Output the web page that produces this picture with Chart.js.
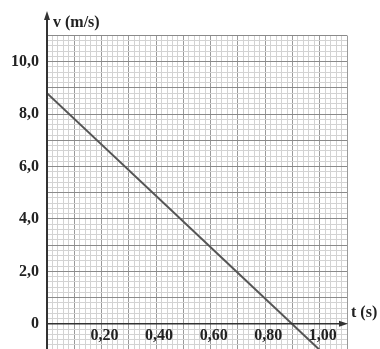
<!DOCTYPE html>
<html>
<head>
<meta charset="utf-8">
<script src="https://cdn.jsdelivr.net/npm/chart.js"></script>
<style>
  html, body { margin: 0; padding: 0; background: #fff; overflow: hidden; }
  #wrap { position: absolute; left: 0; top: 0; width: 380px; height: 352px; }
</style>
</head>
<body>
<div id="wrap"><canvas id="vt-chart"></canvas></div>
<script>
// données du graphique v(t)
const tValues = [0, 1.0];
const vValues = [8.8, -1.0];
const xTickValues = [0.2, 0.4, 0.6, 0.8, 1.0];
const xTickLabels = ['0,20', '0,40', '0,60', '0,80', '1,00'];
const yTickValues = [0, 2, 4, 6, 8, 10];
const yTickLabels = ['0', '2,0', '4,0', '6,0', '8,0', '10,0'];

const FONT = "bold 16px 'Liberation Serif', 'DejaVu Serif', serif";

function isMultiple(v, step) {
    const r = v / step;
    return Math.abs(r - Math.round(r)) < 1e-6;
}

// axes, flèches et textes
const axesPlugin = {
    id: 'axes',
    afterDraw(chart) {
        const ctx = chart.ctx;
        const x = chart.scales.x;
        const y = chart.scales.y;
        const x0 = x.getPixelForValue(0);
        const y0 = y.getPixelForValue(0);
        const xEnd = x.right;
        ctx.save();
        ctx.strokeStyle = '#333';
        ctx.fillStyle = '#333';

        // axe vertical
        ctx.lineWidth = 2;
        ctx.beginPath();
        ctx.moveTo(x0, chart.height);
        ctx.lineTo(x0, 16);
        ctx.stroke();
        ctx.beginPath();
        ctx.moveTo(x0, 11);
        ctx.lineTo(x0 - 3, 20);
        ctx.lineTo(x0 + 3, 20);
        ctx.closePath();
        ctx.fill();

        // axe horizontal
        ctx.lineWidth = 1.5;
        ctx.beginPath();
        ctx.moveTo(x0, y0);
        ctx.lineTo(xEnd - 4, y0);
        ctx.stroke();
        ctx.beginPath();
        ctx.moveTo(xEnd + 1, y0);
        ctx.lineTo(xEnd - 8, y0 - 3);
        ctx.lineTo(xEnd - 8, y0 + 3);
        ctx.closePath();
        ctx.fill();

        // graduations
        ctx.fillStyle = '#222';
        ctx.font = FONT;
        ctx.textBaseline = 'middle';
        ctx.textAlign = 'right';
        yTickValues.forEach((v, i) => {
            ctx.fillText(yTickLabels[i], x0 - 8, y.getPixelForValue(v));
        });
        ctx.textAlign = 'center';
        xTickValues.forEach((t, i) => {
            ctx.fillText(xTickLabels[i], x.getPixelForValue(t) + 3, y0 + 12);
        });

        // noms des axes
        ctx.textAlign = 'left';
        ctx.fillText('v (m/s)', x0 + 6, 23);
        ctx.fillText('t (s)', xEnd + 4, y0 - 11);
        ctx.restore();
    }
};

new Chart(document.getElementById('vt-chart'), {
    type: 'scatter',
    data: {
        datasets: [{
            data: tValues.map((t, i) => ({ x: t, y: vValues[i] })),
            showLine: true,
            borderColor: '#555',
            borderWidth: 2,
            pointRadius: 0,
            fill: false
        }]
    },
    options: {
        responsive: true,
        maintainAspectRatio: false,
        animation: false,
        events: [],
        layout: { padding: { left: 47, right: 33, top: 35.5, bottom: 2 } },
        plugins: { legend: { display: false }, tooltip: { enabled: false } },
        scales: {
            x: {
                type: 'linear',
                min: 0,
                max: 1.1,
                ticks: { display: false, stepSize: 0.02, maxTicksLimit: 1000 },
                grid: {
                    drawTicks: false,
                    lineWidth: 1,
                    color: c => isMultiple(c.tick.value, 0.1) ? '#9a9a9a' : '#d3d3d3'
                },
                border: { display: false },
                afterFit: s => { s.height = 0; }
            },
            y: {
                type: 'linear',
                min: -1,
                max: 11,
                ticks: { display: false, stepSize: 0.2, maxTicksLimit: 1000 },
                grid: {
                    drawTicks: false,
                    lineWidth: 1,
                    color: c => isMultiple(c.tick.value, 1) ? '#8a8a8a' : '#d3d3d3'
                },
                border: { display: false },
                afterFit: s => { s.width = 0; }
            }
        }
    },
    plugins: [axesPlugin]
});
</script>
</body>
</html>
